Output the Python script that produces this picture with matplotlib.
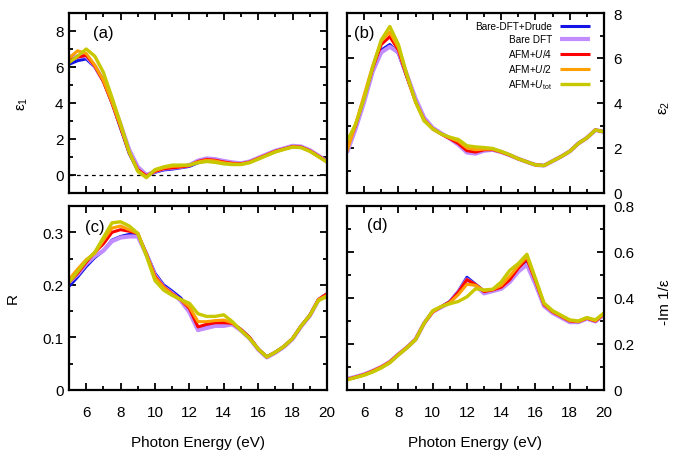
import numpy as np
import matplotlib
matplotlib.use("Agg")
import matplotlib.pyplot as plt

plt.rcParams['font.family'] = ['Liberation Sans', 'DejaVu Sans']
plt.rcParams['mathtext.fontset'] = 'custom'
plt.rcParams['mathtext.rm'] = 'Liberation Sans'
plt.rcParams['mathtext.it'] = 'Liberation Sans:italic'

#Step 1: data (photon energy grid, 0.5 eV)
energy = np.arange(5.0, 20.01, 0.5)

labels = ['Bare-DFT+Drude', 'Bare DFT', 'AFM+$U$/4', 'AFM+$U$/2', r'AFM+$U_{\mathrm{tot}}$']
colors = ['#1414e6', '#c08cff', '#ff0000', '#ffa000', '#c8c800']
widths = [2.2, 3.0, 2.2, 2.2, 2.4]

# (a) eps1
eps1_drude = [6.15, 6.35, 6.45, 6.0, 5.2, 4.0, 2.6, 1.2, 0.25, -0.05, 0.15, 0.28, 0.33, 0.4, 0.48, 0.68,
              0.8, 0.78, 0.72, 0.65, 0.62, 0.72, 0.92, 1.12, 1.32, 1.45, 1.58, 1.55, 1.35, 1.05, 0.75]
eps1_bare = [6.5, 6.6, 6.6, 6.05, 5.25, 4.1, 2.8, 1.4, 0.45, 0.0, 0.2, 0.35, 0.4, 0.45, 0.55, 0.8,
             0.92, 0.88, 0.78, 0.7, 0.65, 0.75, 0.95, 1.15, 1.35, 1.48, 1.62, 1.58, 1.38, 1.08, 0.75]
eps1_u4 = [6.35, 6.55, 6.65, 6.05, 5.2, 4.0, 2.65, 1.25, 0.3, -0.05, 0.2, 0.35, 0.4, 0.45, 0.52, 0.75,
           0.86, 0.82, 0.72, 0.65, 0.62, 0.72, 0.92, 1.12, 1.32, 1.45, 1.58, 1.55, 1.35, 1.05, 0.75]
eps1_u2 = [6.5, 6.9, 6.75, 6.1, 5.25, 4.05, 2.7, 1.25, 0.25, -0.1, 0.25, 0.4, 0.48, 0.5, 0.55, 0.72,
           0.82, 0.78, 0.68, 0.62, 0.6, 0.7, 0.9, 1.1, 1.3, 1.43, 1.56, 1.52, 1.32, 1.02, 0.72]
eps1_utot = [6.25, 6.6, 7.0, 6.6, 5.7, 4.3, 2.85, 1.3, 0.2, -0.15, 0.3, 0.45, 0.55, 0.55, 0.55, 0.68,
             0.75, 0.7, 0.62, 0.58, 0.58, 0.68, 0.88, 1.08, 1.28, 1.42, 1.55, 1.52, 1.32, 1.02, 0.72]

# (b) eps2
eps2_drude = [1.85, 2.9, 4.15, 5.5, 6.35, 6.6, 6.2, 5.15, 4.15, 3.3, 2.85, 2.65, 2.45, 2.2, 1.85, 1.8,
              1.9, 1.92, 1.82, 1.68, 1.52, 1.38, 1.25, 1.22, 1.42, 1.62, 1.85, 2.2, 2.45, 2.8, 2.72]
eps2_bare = [1.8, 2.85, 4.05, 5.4, 6.25, 6.5, 6.25, 5.25, 4.2, 3.35, 2.9, 2.65, 2.42, 2.15, 1.8, 1.75,
             1.88, 1.92, 1.82, 1.68, 1.52, 1.38, 1.25, 1.22, 1.42, 1.62, 1.85, 2.2, 2.45, 2.8, 2.72]
eps2_u4 = [2.05, 3.0, 4.25, 5.55, 6.6, 6.95, 6.35, 5.15, 4.05, 3.25, 2.85, 2.62, 2.42, 2.2, 1.88, 1.82,
           1.92, 1.93, 1.82, 1.68, 1.52, 1.38, 1.25, 1.22, 1.42, 1.62, 1.85, 2.2, 2.45, 2.8, 2.72]
eps2_u2 = [1.85, 3.05, 4.35, 5.65, 6.75, 7.15, 6.45, 5.2, 4.05, 3.25, 2.85, 2.62, 2.45, 2.3, 2.0, 1.92,
           1.95, 1.95, 1.83, 1.69, 1.52, 1.38, 1.25, 1.22, 1.42, 1.62, 1.85, 2.2, 2.45, 2.8, 2.72]
eps2_utot = [2.3, 3.05, 4.2, 5.6, 6.8, 7.4, 6.6, 5.25, 4.05, 3.2, 2.85, 2.62, 2.48, 2.38, 2.1, 2.05,
             2.02, 1.98, 1.85, 1.7, 1.52, 1.38, 1.25, 1.22, 1.42, 1.62, 1.85, 2.2, 2.45, 2.8, 2.72]

# (c) reflectivity
refl_drude = [0.197, 0.215, 0.235, 0.252, 0.265, 0.285, 0.292, 0.296, 0.295, 0.26, 0.222, 0.2, 0.188, 0.175,
              0.153, 0.118, 0.12, 0.125, 0.124, 0.126, 0.115, 0.1, 0.078, 0.063, 0.072, 0.083, 0.098,
              0.122, 0.142, 0.172, 0.183]
refl_bare = [0.205, 0.22, 0.24, 0.255, 0.265, 0.283, 0.29, 0.292, 0.292, 0.258, 0.218, 0.196, 0.184, 0.17,
             0.148, 0.114, 0.118, 0.122, 0.122, 0.125, 0.113, 0.098, 0.077, 0.062, 0.071, 0.082, 0.097,
             0.121, 0.141, 0.171, 0.182]
refl_u4 = [0.205, 0.222, 0.243, 0.262, 0.278, 0.3, 0.305, 0.302, 0.298, 0.258, 0.216, 0.196, 0.183, 0.172,
           0.155, 0.12, 0.125, 0.128, 0.128, 0.127, 0.115, 0.1, 0.078, 0.063, 0.072, 0.083, 0.098,
           0.122, 0.142, 0.172, 0.183]
refl_u2 = [0.21, 0.23, 0.248, 0.26, 0.285, 0.308, 0.312, 0.305, 0.298, 0.258, 0.214, 0.195, 0.182, 0.172,
           0.158, 0.13, 0.13, 0.132, 0.133, 0.128, 0.114, 0.099, 0.078, 0.063, 0.072, 0.083, 0.098,
           0.122, 0.142, 0.172, 0.18]
refl_utot = [0.205, 0.225, 0.246, 0.262, 0.29, 0.318, 0.32, 0.312, 0.298, 0.255, 0.208, 0.19, 0.18, 0.172,
             0.165, 0.145, 0.14, 0.14, 0.143, 0.13, 0.113, 0.098, 0.078, 0.063, 0.072, 0.083, 0.098,
             0.122, 0.142, 0.17, 0.178]

# (d) loss function -Im 1/eps
loss_drude = [0.048, 0.057, 0.068, 0.083, 0.1, 0.122, 0.155, 0.185, 0.22, 0.29, 0.34, 0.362, 0.385, 0.43,
              0.49, 0.46, 0.43, 0.435, 0.445, 0.475, 0.525, 0.56, 0.47, 0.37, 0.34, 0.32, 0.3, 0.297,
              0.312, 0.3, 0.33]
loss_bare = [0.048, 0.057, 0.068, 0.083, 0.1, 0.122, 0.155, 0.185, 0.22, 0.29, 0.34, 0.36, 0.38, 0.425,
             0.48, 0.455, 0.42, 0.43, 0.44, 0.47, 0.515, 0.545, 0.46, 0.365, 0.335, 0.315, 0.295, 0.295,
             0.31, 0.298, 0.328]
loss_u4 = [0.046, 0.056, 0.067, 0.082, 0.1, 0.122, 0.155, 0.185, 0.22, 0.29, 0.34, 0.362, 0.383, 0.425,
           0.48, 0.458, 0.428, 0.435, 0.447, 0.48, 0.53, 0.57, 0.475, 0.372, 0.34, 0.32, 0.3, 0.297,
           0.312, 0.3, 0.33]
loss_u2 = [0.044, 0.055, 0.066, 0.081, 0.099, 0.121, 0.154, 0.185, 0.22, 0.29, 0.34, 0.362, 0.38, 0.415,
           0.46, 0.455, 0.432, 0.437, 0.455, 0.495, 0.54, 0.58, 0.48, 0.375, 0.342, 0.322, 0.302, 0.298,
           0.313, 0.302, 0.332]
loss_utot = [0.044, 0.054, 0.064, 0.078, 0.096, 0.118, 0.152, 0.183, 0.218, 0.29, 0.345, 0.363, 0.375, 0.385,
             0.405, 0.44, 0.435, 0.438, 0.47, 0.52, 0.55, 0.59, 0.485, 0.378, 0.345, 0.325, 0.305, 0.3,
             0.315, 0.305, 0.335]

panels = [
    ([eps1_drude, eps1_bare, eps1_u4, eps1_u2, eps1_utot], '(a)', 'ε$_1$', (-1, 9), 2, 1),
    ([eps2_drude, eps2_bare, eps2_u4, eps2_u2, eps2_utot], '(b)', 'ε$_2$', (0, 8), 2, 1),
    ([refl_drude, refl_bare, refl_u4, refl_u2, refl_utot], '(c)', 'R', (0, 0.35), 0.1, 0.05),
    ([loss_drude, loss_bare, loss_u4, loss_u2, loss_utot], '(d)', '-Im 1/ε', (0, 0.8), 0.2, 0.1),
]

#Step 2: figure and axes placed like the reference
fig = plt.figure(figsize=(6.81, 4.56), dpi=100)
W, H = 681, 456
boxes = [(69, 14, 327, 194), (347, 14, 604, 194), (69, 207, 327, 391), (347, 207, 604, 391)]
label_pos = [(0.093, 0.894), (0.027, 0.894), (0.062, 0.886), (0.078, 0.897)]

for i, (series, tag, ylab, ylim, major, minor) in enumerate(panels):
    x0, y0, x1, y1 = boxes[i]
    ax = fig.add_axes([x0 / W, 1 - y1 / H, (x1 - x0) / W, (y1 - y0) / H])

    if i == 0:
        ax.axhline(0, color='black', lw=0.9, ls=(0, (3, 3)), zorder=1)

    for vals, lab, c, lw in zip(series, labels, colors, widths):
        ax.plot(energy, vals, color=c, lw=lw, label=lab, solid_capstyle='butt')

    ax.set_xlim(5, 20)
    ax.set_ylim(*ylim)
    ax.set_xticks(np.arange(6, 21, 2))
    ax.set_xticks(np.arange(5, 21, 1), minor=True)
    ax.set_yticks(np.arange(ylim[0] if i != 0 else 0, ylim[1] + 1e-9, major))
    ax.set_yticks(np.arange(ylim[0], ylim[1] + 1e-9, minor), minor=True)
    if i == 0:
        ax.set_yticks([0, 2, 4, 6, 8])
    if i == 2:
        ax.set_yticklabels(['0', '0.1', '0.2', '0.3'])
    if i == 3:
        ax.set_yticklabels(['0', '0.2', '0.4', '0.6', '0.8'])

    for s in ax.spines.values():
        s.set_linewidth(1.6)
    ax.tick_params(which='both', direction='in', top=True, right=True, width=1.3, labelsize=11)
    ax.tick_params(which='major', length=5)
    ax.tick_params(which='minor', length=3)
    ax.tick_params(axis='x', pad=11)
    ax.tick_params(axis='y', pad=4)

    if i in (1, 3):
        ax.yaxis.tick_right()
        ax.yaxis.set_ticks_position('both')
        ax.tick_params(axis='y', labelleft=False, labelright=True, pad=7)
        ax.yaxis.set_label_position('right')
        ax.set_ylabel(ylab, fontsize=11)
        ax.yaxis.set_label_coords(1.21, 0.48)
    else:
        ax.set_ylabel(ylab, fontsize=11)
        ax.yaxis.set_label_coords(-0.15 if i == 0 else -0.19, 0.5)

    if i in (2, 3):
        ax.set_xlabel('Photon Energy (eV)', fontsize=11)
        ax.xaxis.set_label_coords(0.5, -0.245)
    else:
        ax.tick_params(axis='x', labelbottom=False)

    ax.text(label_pos[i][0], label_pos[i][1], tag, transform=ax.transAxes,
            fontsize=12, ha='left', va='center')

    if i == 1:
        ax.legend(loc='upper right', bbox_to_anchor=(0.946, 0.955), frameon=False,
                  markerfirst=False, fontsize=7.2, handlelength=3.0, handletextpad=0.8,
                  labelspacing=0.3, borderpad=0, borderaxespad=0)

#Step 3: save
fig.savefig('out.png', dpi=100)
